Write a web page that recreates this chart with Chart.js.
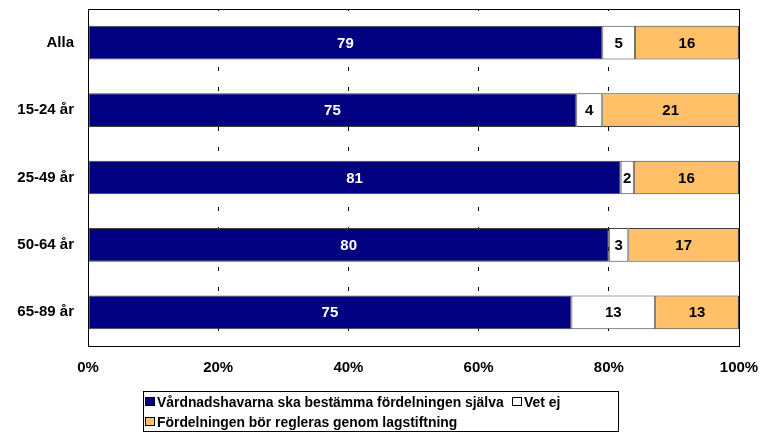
<!DOCTYPE html>
<html>
<head>
<meta charset="utf-8">
<script src="https://cdn.jsdelivr.net/npm/chart.js@4"></script>
<style>
  body { margin: 0; background: #fff; }
  #wrap { position: relative; width: 762px; height: 432px; }
  #legend {
    position: absolute; left: 143px; top: 391px; width: 476px; height: 41px;
    border: 1px solid #000; box-sizing: border-box;
    font: bold 13.9px "Liberation Sans", Arial, sans-serif; color: #000;
  }
  .item { position: absolute; white-space: nowrap; line-height: 16px; }
  .sw { display: inline-block; width: 8px; height: 7px; border: 1px solid #000; margin-right: 2px; vertical-align: 1px; }
</style>
</head>
<body>
<div id="wrap">
  <canvas id="chart" width="762" height="432"></canvas>
  <div id="legend">
    <span class="item" style="left:1px;top:2px"><span class="sw" style="background:#000080"></span>Vårdnadshavarna ska bestämma fördelningen själva</span>
    <span class="item" style="left:368px;top:2px"><span class="sw" style="background:#fff"></span>Vet ej</span>
    <span class="item" style="left:1px;top:22px"><span class="sw" style="background:#FFC067"></span>Fördelningen bör regleras genom lagstiftning</span>
  </div>
</div>
<script>
// värden
let groups = ['Alla', '15-24 år', '25-49 år', '50-64 år', '65-89 år'];
let sjalva = [79, 75, 81, 80, 75];
let vetEj = [5, 4, 2, 3, 13];
let lag = [16, 21, 16, 17, 13];
let xTicks = [0, 20, 40, 60, 80, 100];

// 100 % staplat som i Excel: varje rad räknas om mot sin egen summa
let totals = groups.map((g, i) => sjalva[i] + vetEj[i] + lag[i]);
let share = arr => arr.map((v, i) => v / totals[i] * 100);

let font = '"Liberation Sans", Arial, sans-serif';

let valueLabels = {
  id: 'valueLabels',
  afterDatasetsDraw(chart) {
    let ctx = chart.ctx;
    ctx.save();
    ctx.font = 'bold 15px ' + font;
    ctx.textAlign = 'center';
    ctx.textBaseline = 'middle';
    chart.data.datasets.forEach((ds, di) => {
      chart.getDatasetMeta(di).data.forEach((bar, i) => {
        let x = (bar.x + bar.base) / 2;
        ctx.fillStyle = ds.labelColor;
        ctx.fillText(ds.raw[i], x, bar.y + 1);
      });
    });
    ctx.restore();
  }
};

let plotBox = {
  id: 'plotBox',
  afterDatasetsDraw(chart) {
    let a = chart.chartArea;
    let ctx = chart.ctx;
    ctx.save();
    ctx.strokeStyle = '#000';
    ctx.lineWidth = 1;
    ctx.strokeRect(Math.round(a.left) + 0.5, Math.round(a.top) + 0.5,
      Math.round(a.right - a.left), Math.round(a.bottom - a.top));
    ctx.restore();
  }
};

let myChart = document.getElementById('chart').getContext('2d');

let massChart = new Chart(myChart, {
  type: 'bar',
  data: {
    labels: groups,
    datasets: [
      { label: 'Vårdnadshavarna ska bestämma fördelningen själva', data: share(sjalva), raw: sjalva,
        backgroundColor: '#000080', labelColor: '#fff' },
      { label: 'Vet ej', data: share(vetEj), raw: vetEj,
        backgroundColor: '#ffffff', labelColor: '#000' },
      { label: 'Fördelningen bör regleras genom lagstiftning', data: share(lag), raw: lag,
        backgroundColor: '#FFC067', labelColor: '#000' }
    ].map(d => Object.assign(d, {
      borderColor: '#404040', borderWidth: 1, borderSkipped: false,
      barPercentage: 0.5, categoryPercentage: 1.0
    }))
  },
  options: {
    indexAxis: 'y',
    responsive: false,
    animation: false,
    events: [],
    layout: { padding: { top: 9, right: 23, bottom: 46, left: 0 } },
    plugins: { legend: { display: false }, tooltip: { enabled: false } },
    scales: {
      x: {
        stacked: true, min: 0, max: 100,
        afterBuildTicks: s => { s.ticks = xTicks.map(v => ({ value: v })); },
        afterFit: s => { s.height = 40; s.paddingLeft = 0; s.paddingRight = 0; },
        ticks: { padding: 13, color: '#000', font: { family: font, size: 15, weight: 'bold' },
                 callback: v => v + '%' },
        grid: { drawTicks: false, color: '#000', lineWidth: 1 },
        border: { display: false, dash: [4, 16], dashOffset: 2 }
      },
      y: {
        stacked: true,
        afterFit: s => { s.width = 88; s.paddingTop = 0; s.paddingBottom = 0; },
        ticks: { padding: 6, color: '#000', font: { family: font, size: 15, weight: 'bold' } },
        grid: { display: false },
        border: { display: false }
      }
    }
  },
  plugins: [plotBox, valueLabels]
});
</script>
</body>
</html>
